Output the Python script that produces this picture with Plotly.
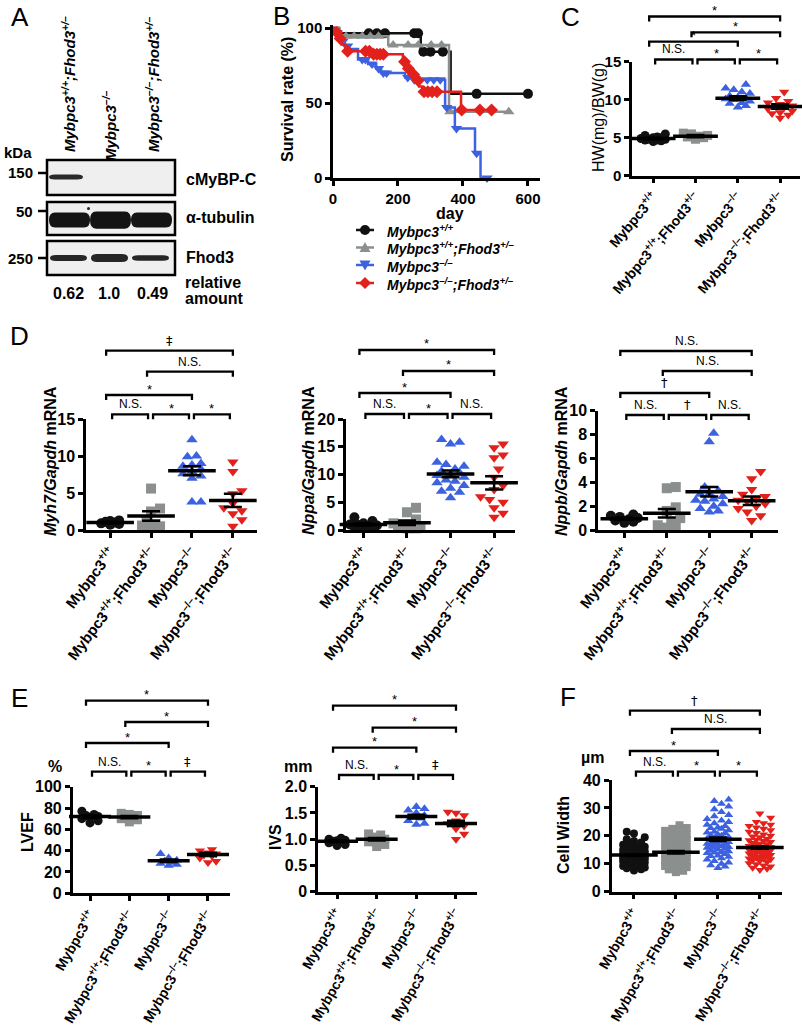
import plotly.graph_objects as go

W, H = 802, 1032
FONT = "Liberation Sans"

# ======================= DATA =======================
group_ticktext = [
    "Mybpc3<sup>+/+</sup>",
    "Mybpc3<sup>+/+</sup>;Fhod3<sup>+/–</sup>",
    "Mybpc3<sup>–/–</sup>",
    "Mybpc3<sup>–/–</sup>;Fhod3<sup>+/–</sup>",
]
group_colors = ["#111111", "#8b8f8d", "#3d62e0", "#e3211c"]
dot_symbols = ["circle", "square", "triangle-up", "triangle-down"]
surv_symbols = ["circle", "triangle-up", "triangle-down", "diamond"]

# ---- Panel A (western blot) ----
blot_lane_labels = [
    "Mybpc3<sup>+/+</sup>;Fhod3<sup>+/–</sup>",
    "Mybpc3<sup>–/–</sup>",
    "Mybpc3<sup>–/–</sup>;Fhod3<sup>+/–</sup>",
]
blot_rows = ["cMyBP-C", "α-tubulin", "Fhod3"]
blot_kda = ["150", "50", "250"]
cmybpc_signal = [1.0, 0.0, 0.0]
tubulin_signal = [1.0, 1.15, 1.0]
fhod3_relative_amount = [0.62, 1.0, 0.49]

# ---- Panel B (survival) ----
surv_wt_t = [0, 18, 270, 362, 600]
surv_wt_s = [100, 96.5, 84.2, 56.1, 56.1]
cens_wt_t = [110, 135, 160, 250, 262, 278, 300, 338, 442, 600]
cens_wt_s = [96.5, 96.5, 96.5, 96.5, 96.5, 84.2, 84.2, 84.2, 56.1, 56.1]

surv_fh_t = [0, 20, 170, 357, 541]
surv_fh_s = [100, 94.5, 88.7, 44.2, 44.2]
cens_fh_t = [40, 65, 90, 115, 140, 185, 231, 262, 302, 334, 360, 541]
cens_fh_s = [94.5, 94.5, 94.5, 94.5, 94.5, 88.7, 88.7, 88.7, 88.7, 88.7, 44.2, 44.2]

surv_ko_t = [0, 8, 15, 25, 35, 50, 77, 108, 133, 148, 222, 245, 345, 375, 437, 454, 474]
surv_ko_s = [100, 97, 94, 91, 88, 86, 79, 76, 73, 70, 67, 65.5, 47, 33, 16.5, 0, 0]
cens_ko_t = [12, 30, 45, 90, 100, 120, 140, 155, 165, 230, 250, 290, 310, 330, 350, 380, 442, 474]
cens_ko_s = [97, 91, 88, 79, 79, 76, 73, 70, 70, 67, 65.5, 65.5, 65.5, 65.5, 47, 33, 16.5, 0]

surv_dko_t = [0, 8, 16, 26, 38, 115, 215, 225, 240, 255, 265, 275, 394, 488]
surv_dko_s = [100, 97, 93, 89, 84.5, 82.5, 77.5, 73, 69, 65, 61, 57.5, 45.3, 45.3]
cens_dko_t = [12, 22, 45, 100, 112, 125, 135, 145, 155, 220, 232, 248, 262, 280, 292, 305, 320, 396, 452, 488]
cens_dko_s = [97, 93, 84.5, 84.5, 84.5, 82.5, 82.5, 82.5, 82.5, 77.5, 73, 69, 65, 57.5, 57.5, 57.5, 57.5, 45.3, 45.3, 45.3]

# ---- Panel C (HW/BW) ----
hw_wt = [4.5, 4.6, 4.7, 4.7, 4.8, 4.8, 4.9, 5.0, 5.0, 5.1, 5.3, 5.5]
hw_fh = [4.8, 5.0, 5.1, 5.2, 5.3, 5.5, 5.6]
hw_ko = [9.0, 9.2, 9.5, 9.6, 9.8, 10.0, 10.1, 10.2, 10.3, 10.5, 10.8, 11.0, 11.3, 11.5, 12.0]
hw_dko = [7.6, 8.0, 8.2, 8.3, 8.5, 8.8, 9.0, 9.1, 9.2, 9.4, 9.6, 9.8, 10.2, 11.0]
hw_mean = [4.9, 5.2, 10.2, 9.1]
hw_sem = [0.1, 0.15, 0.25, 0.3]

# ---- Panel D (mRNA) ----
myh7_wt = [0.7, 0.8, 0.9, 1.0, 1.1, 1.2, 1.3]
myh7_fh = [5.6, 2.9, 2.5, 1.2, 0.8, 0.5, 0.3, 0.6]
myh7_ko = [12.2, 10.0, 9.9, 9.0, 8.6, 8.2, 7.9, 7.6, 7.3, 7.0, 3.8, 3.8, 8.8]
myh7_dko = [9.2, 7.9, 5.3, 4.9, 3.6, 3.0, 2.6, 2.2, 1.4, 0.5]
myh7_mean = [1.0, 1.9, 8.0, 4.0]
myh7_sem = [0.12, 0.65, 0.6, 0.9]

nppa_wt = [2.3, 1.6, 1.2, 1.0, 0.8, 0.6, 0.5, 0.4, 0.7, 0.9]
nppa_fh = [4.0, 3.2, 1.9, 1.2, 0.8, 0.5, 0.4, 0.3, 0.6, 0.3]
nppa_ko = [16.3, 15.8, 15.5, 12.2, 11.8, 11.5, 11.0, 10.6, 10.3, 10.0,
           9.8, 9.5, 9.0, 8.8, 8.5, 8.0, 7.5, 7.0, 6.8, 5.8]
nppa_dko = [15.5, 14.8, 13.5, 13.0, 11.0, 9.5, 8.0, 7.3, 6.0, 5.0, 4.0, 3.0, 2.3, 5.5]
nppa_mean = [1.0, 1.3, 10.1, 8.5]
nppa_sem = [0.2, 0.4, 0.6, 1.2]

nppb_wt = [1.3, 1.2, 1.0, 0.9, 0.8, 0.7, 0.6, 1.1]
nppb_fh = [3.6, 3.5, 1.9, 1.6, 1.0, 0.6, 0.2, 0.4, 0.2]
nppb_ko = [8.1, 7.4, 3.6, 3.3, 3.0, 2.8, 2.6, 2.4, 2.2, 2.0, 1.8, 1.6, 1.5, 3.0, 2.5]
nppb_dko = [4.9, 4.3, 3.4, 2.8, 2.6, 2.4, 2.2, 2.0, 1.8, 1.5, 1.2, 0.8, 2.5, 3.0]
nppb_mean = [0.95, 1.4, 3.2, 2.45]
nppb_sem = [0.1, 0.35, 0.4, 0.35]

# ---- Panel E (echo) ----
lvef_wt = [77, 74, 73, 72, 71, 70, 68, 66]
lvef_fh = [75, 74, 73, 72, 71, 70, 69, 67]
lvef_ko = [37, 33, 31, 30, 29, 28, 27, 26]
lvef_dko = [41, 40, 38, 37, 36, 35, 33, 30, 29]
lvef_mean = [72, 71.5, 30.5, 36.5]
lvef_sem = [1.3, 1.0, 1.2, 1.5]

ivs_wt = [1.02, 1.0, 0.98, 0.97, 0.96, 0.95, 0.93, 0.9, 0.88]
ivs_fh = [1.1, 1.08, 1.04, 1.0, 0.98, 0.95, 0.9, 0.86]
ivs_ko = [1.62, 1.58, 1.55, 1.5, 1.45, 1.42, 1.4, 1.35, 1.3, 1.28]
ivs_dko = [1.52, 1.5, 1.45, 1.35, 1.3, 1.25, 1.2, 1.1, 1.0]
ivs_mean = [0.96, 1.0, 1.43, 1.3]
ivs_sem = [0.015, 0.025, 0.035, 0.05]

# ---- Panel F (cell width, µm) ----
cw_wt = [21.5, 20.8, 19.5, 18.8, 18.2, 17.6, 17.2, 16.8, 16.5, 16.1, 15.8, 15.5, 15.2, 15.0,
         14.7, 14.5, 14.2, 14.0, 13.8, 13.6, 13.4, 13.2, 13.0, 12.8, 12.6, 12.4, 12.2, 12.0,
         11.8, 11.6, 11.4, 11.2, 11.0, 10.8, 10.6, 10.4, 10.2, 10.0, 9.8, 9.5, 9.2, 9.0, 8.7,
         8.4, 8.0, 7.6, 13.1, 12.9, 13.3, 14.1, 11.9, 12.3, 15.1, 10.9, 13.7]
cw_fh = [23.8, 22.8, 22.5, 21.8, 21.0, 20.5, 20.0, 19.5, 19.0, 18.5, 18.0, 17.5, 17.0, 16.6,
         16.2, 15.8, 15.4, 15.0, 14.7, 14.4, 14.1, 13.8, 13.5, 13.2, 12.9, 12.6, 12.3, 12.0,
         11.6, 11.2, 10.8, 10.4, 10.0, 9.6, 9.2, 8.8, 8.4, 8.0, 7.5, 7.0, 14.0, 13.0, 15.5,
         12.5, 11.5, 16.8, 10.5, 9.0]
cw_ko = [33.0, 32.5, 31.5, 30.5, 29.5, 28.5, 27.5, 27.0, 26.0, 25.5, 25.0, 24.5, 24.0, 23.5,
         23.0, 22.5, 22.0, 21.5, 21.0, 20.5, 20.0, 19.5, 19.0, 18.7, 18.4, 18.1, 17.8, 17.5,
         17.2, 16.9, 16.6, 16.3, 16.0, 15.7, 15.4, 15.1, 14.8, 14.5, 14.2, 13.9, 13.5, 13.0,
         12.5, 12.0, 11.5, 11.0, 10.5, 10.0, 9.5, 9.0, 8.5, 19.2, 18.9, 20.2, 17.0, 21.2,
         15.9, 22.8, 14.0, 12.8]
cw_dko = [28.0, 26.5, 25.0, 24.5, 24.0, 23.5, 23.0, 22.5, 22.0, 21.5, 21.0, 20.5, 20.0, 19.5,
          19.0, 18.6, 18.2, 17.8, 17.4, 17.0, 16.7, 16.4, 16.1, 15.8, 15.5, 15.2, 14.9, 14.6,
          14.3, 14.0, 13.7, 13.4, 13.1, 12.8, 12.5, 12.2, 11.9, 11.6, 11.3, 11.0, 10.6, 10.2,
          9.8, 9.4, 9.0, 8.6, 8.2, 7.8, 16.0, 15.0, 17.2, 13.9, 18.4, 12.6, 19.8, 11.8, 15.6, 14.8]
cw_mean = [13.1, 14.1, 18.8, 15.8]
cw_sem = [0.35, 0.45, 0.6, 0.45]

# significance annotations (group i, group j, label)
sig_hw = [(0, 1, "N.S."), (1, 2, "*"), (2, 3, "*"), (0, 2, "*"), (1, 3, "*"), (0, 3, "*")]
sig_myh7 = [(0, 1, "N.S."), (1, 2, "*"), (2, 3, "*"), (0, 2, "*"), (1, 3, "N.S."), (0, 3, "‡")]
sig_nppa = [(0, 1, "N.S."), (1, 2, "*"), (2, 3, "N.S."), (0, 2, "*"), (1, 3, "*"), (0, 3, "*")]
sig_nppb = [(0, 1, "N.S."), (1, 2, "†"), (2, 3, "N.S."), (0, 2, "†"), (1, 3, "N.S."), (0, 3, "N.S.")]
sig_lvef = [(0, 1, "N.S."), (1, 2, "*"), (2, 3, "‡"), (0, 2, "*"), (1, 3, "*"), (0, 3, "*")]
sig_ivs = [(0, 1, "N.S."), (1, 2, "*"), (2, 3, "‡"), (0, 2, "*"), (1, 3, "*"), (0, 3, "*")]
sig_cw = [(0, 1, "N.S."), (1, 2, "*"), (2, 3, "*"), (0, 2, "*"), (1, 3, "N.S."), (0, 3, "†")]

# ======================= HELPERS =======================
def PX(x):
    return x / W


def PY(y):
    return 1 - y / H


annotations = []
shapes = []


def text(t, x, y, size=14, bold=True, italic=False, angle=0, xanchor="center",
         yanchor="middle", color="black", family=FONT):
    annotations.append(dict(
        text=t, x=PX(x), y=PY(y), xref="paper", yref="paper", showarrow=False,
        xanchor=xanchor, yanchor=yanchor, textangle=angle,
        font=dict(family=family, size=size, color=color,
                  weight="bold" if bold else "normal",
                  style="italic" if italic else "normal")))


def swarm(vals, ppu, cat_px, msize, maxhalf):
    ys = [v * ppu for v in vals]
    order = sorted(range(len(vals)), key=lambda k: ys[k])
    placed = []
    offs = [0.0] * len(vals)
    step = msize * 0.45
    need = msize * 0.85
    cands = [0.0]
    m = 1
    while m * step <= maxhalf:
        cands += [m * step, -m * step]
        m += 1
    for k in order:
        y = ys[k]
        bestc, bestd = 0.0, -1.0
        for c in cands:
            md = min([((c - a) ** 2 + (y - b) ** 2) ** 0.5 for a, b in placed] or [1e9])
            if md >= need:
                bestc, bestd = c, md
                break
            if md > bestd:
                bestc, bestd = c, md
        offs[k] = bestc / cat_px
        placed.append((bestc, y))
    return offs


axis_line = dict(showline=True, linecolor="black", linewidth=2.5, ticks="outside",
                 ticklen=5, tickwidth=2.5, tickcolor="black", showgrid=False,
                 zeroline=False, fixedrange=True)

layout = dict(width=W, height=H, margin=dict(l=0, r=0, t=0, b=0, autoexpand=False),
              paper_bgcolor="white", plot_bgcolor="white", showlegend=False,
              font=dict(family=FONT, color="black"))

fig = go.Figure()

# ======================= PANEL A =======================
text("A", 20, 17, size=26, bold=False)
lane_x = [68, 109, 152]
lane_centers_y = [84, 126, 84]
for i, lab in enumerate(blot_lane_labels):
    text(lab, lane_x[i], lane_centers_y[i], size=15, bold=True, italic=True, angle=-90)
text("kDa", 2, 152, size=15, xanchor="left")

box_y = [(160, 195), (202, 235), (241, 275)]
for (y0, y1) in box_y:
    shapes.append(dict(type="rect", xref="paper", yref="paper", x0=PX(47), x1=PX(175),
                       y0=PY(y1), y1=PY(y0), line=dict(color="black", width=2.5),
                       fillcolor="#efefef", layer="below"))


def band(x0, x1, yc, t, color):
    r = min(6, (x1 - x0) / 4)
    yt, yb = yc - t / 2, yc + t / 2
    p = (f"M {PX(x0 + r)},{PY(yt)} L {PX(x1 - r)},{PY(yt)} Q {PX(x1)},{PY(yt)} {PX(x1)},{PY(yc)} "
         f"Q {PX(x1)},{PY(yb)} {PX(x1 - r)},{PY(yb)} L {PX(x0 + r)},{PY(yb)} "
         f"Q {PX(x0)},{PY(yb)} {PX(x0)},{PY(yc)} Q {PX(x0)},{PY(yt)} {PX(x0 + r)},{PY(yt)} Z")
    shapes.append(dict(type="path", path=p, xref="paper", yref="paper",
                       fillcolor=color, line=dict(width=0)))


lane_edges = [(49, 89), (90, 130), (131, 171)]
for i, (a, b) in enumerate(lane_edges):
    if cmybpc_signal[i] > 0:
        band(a, b - 6, 177, 5 * cmybpc_signal[i], "#2b2b2b")
    band(a, b + 1, 220, 15 * tubulin_signal[i], "#141414")
    band(a + 1, b - 2, 258, 3 + 5 * fhod3_relative_amount[i], "#262626")
shapes.append(dict(type="circle", xref="paper", yref="paper", x0=PX(87), x1=PX(90),
                   y0=PY(210), y1=PY(207), fillcolor="#222", line=dict(width=0)))

kda_y = [173, 211, 258]
for k, y in zip(blot_kda, kda_y):
    shapes.append(dict(type="line", xref="paper", yref="paper", x0=PX(38), x1=PX(47),
                       y0=PY(y), y1=PY(y), line=dict(color="black", width=2.5)))
    text(k, 35, y, size=15, xanchor="right")
row_y = [180, 218, 257]
for name, y in zip(blot_rows, row_y):
    text(name, 184, y, size=16, xanchor="left")
text("relative", 183, 282, size=16, xanchor="left")
text("amount", 183, 298, size=16, xanchor="left")
for i, v in enumerate(fhod3_relative_amount):
    text(f"{v:.2f}" if v != 1.0 else "1.0", lane_x[i], 293, size=16)

# ======================= PANEL B =======================
text("B", 281, 16, size=26, bold=False)
layout["xaxis"] = dict(axis_line, domain=[PX(333), PX(540)], range=[0, 637], anchor="y",
                       tickvals=[0, 200, 400, 600],
                       tickfont=dict(family=FONT, size=15, weight="bold", color="black"))
layout["yaxis"] = dict(axis_line, domain=[PY(178), PY(25)], range=[0, 102], anchor="x",
                       tickvals=[0, 50, 100],
                       tickfont=dict(family=FONT, size=15, weight="bold", color="black"))
text("Survival rate (%)", 288, 100, size=16, angle=-90)
text("day", 450, 213, size=16)

surv_sets = [
    (surv_wt_t, surv_wt_s, cens_wt_t, cens_wt_s),
    (surv_fh_t, surv_fh_s, cens_fh_t, cens_fh_s),
    (surv_ko_t, surv_ko_s, cens_ko_t, cens_ko_s),
    (surv_dko_t, surv_dko_s, cens_dko_t, cens_dko_s),
]
legend_names = [
    "Mybpc3<sup>+/+</sup>",
    "Mybpc3<sup>+/+</sup>;Fhod3<sup>+/–</sup>",
    "Mybpc3<sup>–/–</sup>",
    "Mybpc3<sup>–/–</sup>;Fhod3<sup>+/–</sup>",
]
for g, (t, s, ct, cs) in enumerate(surv_sets):
    col = group_colors[g]
    fig.add_trace(go.Scatter(x=t, y=s, mode="lines", line=dict(color=col, width=2.5, shape="hv"),
                             xaxis="x", yaxis="y", showlegend=False, cliponaxis=False,
                             hoverinfo="skip", name=legend_names[g]))
    fig.add_trace(go.Scatter(x=ct, y=cs, mode="markers",
                             marker=dict(symbol=surv_symbols[g], size=10, color=col),
                             xaxis="x", yaxis="y", showlegend=False, cliponaxis=False,
                             hoverinfo="skip", name=legend_names[g]))

# hand-drawn legend (compact row spacing as in the original)
leg_rows = [230, 247.5, 265, 283]
for g, yrow in enumerate(leg_rows):
    col = group_colors[g]
    shapes.append(dict(type="line", xref="paper", yref="paper", x0=PX(356), x1=PX(374),
                       y0=PY(yrow), y1=PY(yrow), line=dict(color=col, width=2.5)))
    cx_, cy_ = 365, yrow
    sym = surv_symbols[g]
    if sym == "circle":
        shapes.append(dict(type="circle", xref="paper", yref="paper", x0=PX(cx_ - 5),
                           x1=PX(cx_ + 5), y0=PY(cy_ + 5), y1=PY(cy_ - 5), fillcolor=col,
                           line=dict(width=0)))
    else:
        if sym == "triangle-up":
            pts = [(cx_ - 5.5, cy_ + 4.5), (cx_ + 5.5, cy_ + 4.5), (cx_, cy_ - 5.5)]
        elif sym == "triangle-down":
            pts = [(cx_ - 5.5, cy_ - 4.5), (cx_ + 5.5, cy_ - 4.5), (cx_, cy_ + 5.5)]
        else:
            pts = [(cx_, cy_ - 6), (cx_ + 6, cy_), (cx_, cy_ + 6), (cx_ - 6, cy_)]
        p = "M " + " L ".join(f"{PX(a)},{PY(b)}" for a, b in pts) + " Z"
        shapes.append(dict(type="path", path=p, xref="paper", yref="paper", fillcolor=col,
                           line=dict(width=0)))
    text(legend_names[g], 385, yrow + 1, size=14, bold=True, italic=True, xanchor="left")

# ======================= DOT PLOT PANELS =======================
dot_panels = [
    dict(letter=("C", 570, 17), vals=[hw_wt, hw_fh, hw_ko, hw_dko], mean=hw_mean, sem=hw_sem,
         sig=sig_hw, x0=632, x1=800, xr=[-0.5, 3.47], y0=61.7, y1=175.7, yr=[0, 15],
         yt=[0, 5, 10, 15], ytt=None, msize=9, maxhalf=15, mhalf=16,
         levels=[59.5, 41.7, 32.3, 16.5], title=("HW(mg)/BW(g)", 599, 118, False), unit=None,
         tfs=15, xfs=14, xang=-50),
    dict(letter=("D", 19, 336), vals=[myh7_wt, myh7_fh, myh7_ko, myh7_dko], mean=myh7_mean,
         sem=myh7_sem, sig=sig_myh7, x0=86, x1=257, xr=[-0.59, 3.59], y0=419, y1=530,
         yr=[0, 15], yt=[0, 5, 10, 15], ytt=None, msize=10, maxhalf=13, mhalf=17,
         levels=[414.3, 395, 371.7, 350.7],
         title=("<i>Myh7/Gapdh</i> mRNA", 50, 461, True), unit=None, tfs=16, xfs=15, xang=-53),
    dict(letter=None, vals=[nppa_wt, nppa_fh, nppa_ko, nppa_dko], mean=nppa_mean,
         sem=nppa_sem, sig=sig_nppa, x0=346, x1=515, xr=[-0.4, 3.48], y0=419, y1=530,
         yr=[0, 20], yt=[0, 5, 10, 15, 20], ytt=None, msize=10, maxhalf=14, mhalf=17,
         levels=[414, 393, 371, 350],
         title=("<i>Nppa/Gapdh</i> mRNA", 308, 461, True), unit=None, tfs=16, xfs=15, xang=-53),
    dict(letter=None, vals=[nppb_wt, nppb_fh, nppb_ko, nppb_dko], mean=nppb_mean,
         sem=nppb_sem, sig=sig_nppb, x0=598, x1=778, xr=[-0.62, 3.62], y0=410.7, y1=530,
         yr=[0, 10], yt=[0, 2, 4, 6, 8, 10], ytt=None, msize=10, maxhalf=14, mhalf=17,
         levels=[415, 393, 371, 351],
         title=("<i>Nppb/Gapdh</i> mRNA", 561, 461, True), unit=None, tfs=16, xfs=15, xang=-53),
    dict(letter=("E", 19, 698), vals=[lvef_wt, lvef_fh, lvef_ko, lvef_dko], mean=lvef_mean,
         sem=lvef_sem, sig=sig_lvef, x0=72.7, x1=230, xr=[-0.44, 3.56], y0=786.7, y1=893.3,
         yr=[0, 100], yt=[0, 20, 40, 60, 80, 100], ytt=None, msize=9, maxhalf=12, mhalf=15,
         levels=[771.7, 743, 722, 700.7], title=("LVEF", 27, 832, True), unit=("%", 55, 766),
         tfs=16, xfs=14, xang=-60),
    dict(letter=None, vals=[ivs_wt, ivs_fh, ivs_ko, ivs_dko], mean=ivs_mean, sem=ivs_sem,
         sig=sig_ivs, x0=318, x1=477, xr=[-0.48, 3.53], y0=786.7, y1=891.7, yr=[0, 2],
         yt=[0, 0.5, 1.0, 1.5, 2.0], ytt=["0", "0.5", "1.0", "1.5", "2.0"], msize=9,
         maxhalf=12, mhalf=15, levels=[775, 747.7, 727.7, 705.7],
         title=("IVS", 275, 837, True), unit=("mm", 298, 766), tfs=16, xfs=14, xang=-60),
    dict(letter=("F", 568, 697), vals=[cw_wt, cw_fh, cw_ko, cw_dko], mean=cw_mean,
         sem=cw_sem, sig=sig_cw, x0=611.7, x1=781.7, xr=[-0.53, 3.52], y0=780, y1=891.7,
         yr=[0, 40], yt=[0, 10, 20, 30, 40], ytt=None, msize=8, maxhalf=11, mhalf=17,
         levels=[771.7, 751, 729, 710.7], title=("Cell Width", 563, 835, True),
         unit=("µm", 592, 757), tfs=16, xfs=14, xang=-60),
]

for n, P in enumerate(dot_panels):
    k = n + 2
    xa, ya = f"x{k}", f"y{k}"
    layout[f"xaxis{k}"] = dict(axis_line, domain=[PX(P["x0"]), PX(P["x1"])], range=P["xr"],
                               anchor=ya, tickvals=[0, 1, 2, 3], ticktext=group_ticktext,
                               tickangle=P["xang"],
                               tickfont=dict(family=FONT, size=P["xfs"], weight="bold",
                                             color="black"))
    ydict = dict(axis_line, domain=[PY(P["y1"]), PY(P["y0"])], range=P["yr"], anchor=xa,
                 tickvals=P["yt"],
                 tickfont=dict(family=FONT, size=P["tfs"], weight="bold", color="black"))
    if P["ytt"]:
        ydict["ticktext"] = P["ytt"]
    layout[f"yaxis{k}"] = ydict

    cat_px = (P["x1"] - P["x0"]) / (P["xr"][1] - P["xr"][0])
    ppu = (P["y1"] - P["y0"]) / (P["yr"][1] - P["yr"][0])

    for g in range(4):
        vals = P["vals"][g]
        offs = swarm(vals, ppu, cat_px, P["msize"], P["maxhalf"])
        fig.add_trace(go.Scatter(
            x=[g + o for o in offs], y=vals, mode="markers", xaxis=xa, yaxis=ya,
            marker=dict(symbol=dot_symbols[g], size=P["msize"], color=group_colors[g],
                        line=dict(width=0)),
            showlegend=False, cliponaxis=False, hoverinfo="skip"))
    fig.add_trace(go.Scatter(
        x=[0, 1, 2, 3], y=P["mean"], mode="markers", xaxis=xa, yaxis=ya,
        marker=dict(symbol="line-ew", size=2 * P["mhalf"], color="black",
                    line=dict(color="black", width=3.5)),
        error_y=dict(type="data", array=P["sem"], visible=True, color="black",
                     thickness=2.5, width=9),
        showlegend=False, cliponaxis=False, hoverinfo="skip"))

    if P["letter"]:
        L, lx, ly = P["letter"]
        text(L, lx, ly, size=26, bold=False)
    t, tx, ty, tb = P["title"]
    text(t, tx, ty, size=16, bold=tb, angle=-90)
    if P["unit"]:
        u, ux, uy = P["unit"]
        text(u, ux, uy, size=16)

    def cx(i):
        return P["x0"] + (i - P["xr"][0]) * cat_px

    for (i, j, lab) in P["sig"]:
        if j - i == 1:
            lvl = 0
            xa_, xb_ = cx(i) + 2, cx(j) - 3
        elif (i, j) == (0, 2):
            lvl = 1
            xa_, xb_ = cx(i) - 4, cx(j)
        elif (i, j) == (1, 3):
            lvl = 2
            xa_, xb_ = cx(i) - 4, cx(j)
        else:
            lvl = 3
            xa_, xb_ = cx(i) - 4, cx(j)
        yl = P["levels"][lvl]
        path = (f"M {PX(xa_)},{PY(yl + 5)} L {PX(xa_)},{PY(yl)} "
                f"L {PX(xb_)},{PY(yl)} L {PX(xb_)},{PY(yl + 5)}")
        shapes.append(dict(type="path", path=path, xref="paper", yref="paper",
                           line=dict(color="black", width=2.3)))
        xm = (xa_ + xb_) / 2
        if lab == "*":
            text(lab, xm, yl - 6, size=13, bold=False, yanchor="middle")
        elif lab in ("†", "‡"):
            text(lab, xm, yl - 1, size=13, bold=False, yanchor="bottom",
                 family="DejaVu Sans")
        else:
            text(lab, xm, yl - 1, size=12, bold=False, yanchor="bottom")

layout["annotations"] = annotations
layout["shapes"] = shapes
fig.update_layout(**layout)
fig.write_html("out.html", config={"displayModeBar": False},
               post_script="document.body.style.margin='0px';document.body.style.overflow='hidden';")
